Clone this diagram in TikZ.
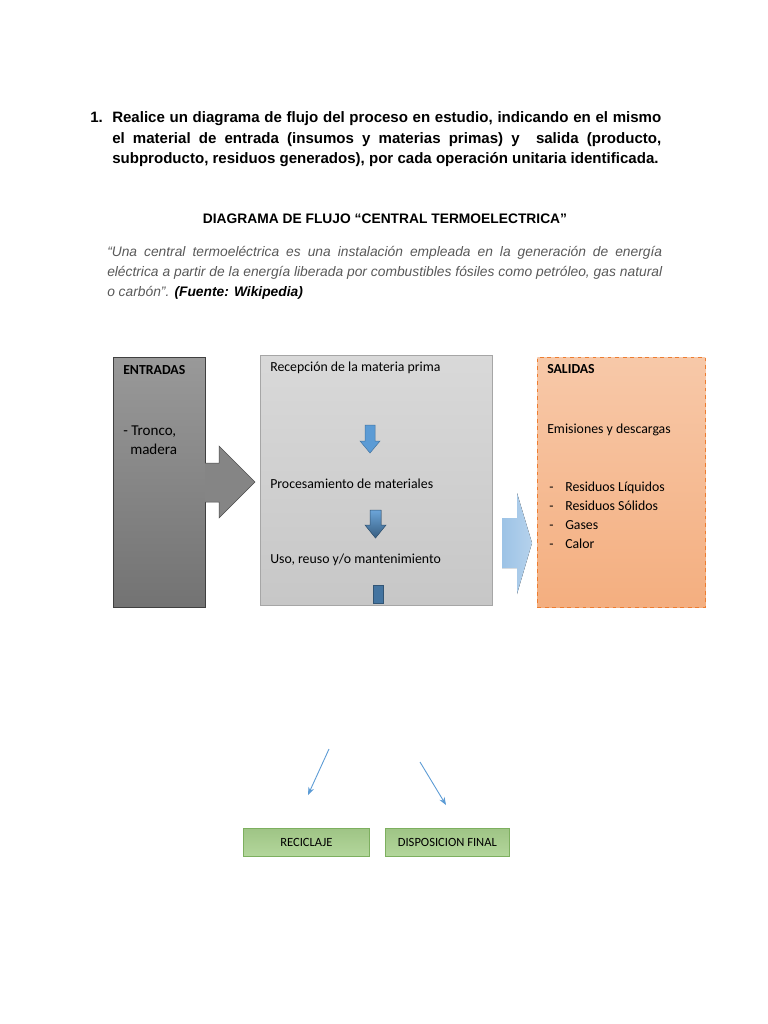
\documentclass[tikz,border=0pt]{standalone}
\usepackage{fontspec}
\setmainfont{Liberation Sans}
\newfontfamily\calibri{Carlito}
\usetikzlibrary{positioning,arrows.meta}

\newcommand\pxu{0.797pt}
\definecolor{quotegray}{HTML}{595959}
\definecolor{thinblue}{HTML}{5B9BD5}
\definecolor{salline}{HTML}{ED7D31}
\definecolor{tagfill}{HTML}{A9D18E}
\definecolor{tagline}{HTML}{7DAF5F}

\begin{document}
\begin{tikzpicture}[
  x=\pxu, y=-\pxu,
  >=Stealth,
  txt/.style={anchor=base west, inner sep=0, font=\calibri\fontsize{11}{13}\selectfont},
  head/.style={anchor=base west, inner sep=0, font=\fontsize{12}{14}\selectfont\bfseries},
  quote/.style={anchor=base west, inner sep=0, text=quotegray, font=\fontsize{11}{13}\selectfont\itshape},
  panel/.style={anchor=north west, inner sep=0, line width=0.6pt},
  tag/.style={panel, draw=tagline, top color=tagfill!94!black, bottom color=tagfill!88!white,
    minimum width=126*\pxu, minimum height=28*\pxu, font=\calibri\fontsize{10}{12}\selectfont},
  thinarr/.style={->, draw=thinblue, line width=0.7pt}
]
  \fill[white] (0,0) rectangle (768,1024);
  \useasboundingbox (0,0) rectangle (768,1024);

  % enunciado
  \node[head] (num) at (90,122) {1.};
  \node[head] (l1) at (112,122) {\makebox[437.6pt][s]{Realice un diagrama de flujo del proceso en estudio, indicando en el mismo}};
  \node[head] (l2) at (112,143) {\makebox[437.6pt][s]{el material de entrada (insumos y materias primas) y\ \ salida (producto,}};
  \node[head] (l3) at (112,163) {subproducto, residuos generados), por cada operación unitaria identificada.};

  \node[head, anchor=base, font=\fontsize{11}{13}\selectfont\bfseries] (titulo) at (385,223)
    {DIAGRAMA DE FLUJO “CENTRAL TERMOELECTRICA”};

  \node[quote] (q1) at (107,256) {\makebox[442.3pt][s]{“Una central termoeléctrica es una instalación empleada en la generación de energía}};
  \node[quote] (q2) at (107,276) {\makebox[442.3pt][s]{eléctrica a partir de la energía liberada por combustibles fósiles como petróleo, gas natural}};
  \node[quote] (q3) at (107,296) {o carbón”. {\color{black}\bfseries (Fuente: Wikipedia)}};

  % cajas
  \node[panel, draw=black!75, top color=black!40, bottom color=black!55,
    minimum width=92*\pxu, minimum height=250*\pxu] (ent) at (113,357) {};
  \node[panel, draw=black!35, top color=black!15, bottom color=black!22,
    minimum width=232*\pxu, minimum height=250*\pxu] (proc) at (260,355) {};
  \node[panel, draw=salline, dashed, top color=salline!42!white, bottom color=salline!62!white,
    minimum width=168*\pxu, minimum height=250*\pxu] (sal) at (537,357) {};

  % flechas de bloque
  \filldraw[fill=black!48, draw=black!70, line width=0.4pt]
    (205,463) -- (219,463) -- (219,446) -- (255,482) -- (219,518) -- (219,502) -- (205,502);
  \fill[left color=thinblue!60!white, right color=thinblue!45!white]
    (502,518) -- (517,518) -- (517,493) -- (532,543) -- (517,594) -- (517,568) -- (502,568) -- cycle;
  \filldraw[fill=thinblue, draw=thinblue!75!black, line width=0.4pt]
    (365,425) -- (375,425) -- (375,441) -- (380,441) -- (370,453) -- (360,441) -- (365,441) -- cycle;
  \filldraw[top color=thinblue!90!white, bottom color=thinblue!60!black, draw=thinblue!55!black, line width=0.4pt]
    (370,510) -- (381,510) -- (381,525) -- (386,525) -- (375.5,538) -- (365,525) -- (370,525) -- cycle;
  \filldraw[fill=thinblue!75!black, draw=thinblue!55!black, line width=0.4pt] (373,585) rectangle (383,603);

  % textos
  \node[txt, font=\calibri\fontsize{11}{13}\selectfont\bfseries] (enttit) at (123,374) {ENTRADAS};
  \node[txt, font=\calibri\fontsize{12}{14}\selectfont] (tronco) at (123,435) {- Tronco,};
  \node[txt, font=\calibri\fontsize{12}{14}\selectfont] (madera) at (130,454) {madera};

  \node[txt] (recep) at (270,371) {Recepción de la materia prima};
  \node[txt] (procm) at (270,488) {Procesamiento de materiales};
  \node[txt] (uso) at (270,563) {Uso, reuso y/o mantenimiento};

  \node[txt, font=\calibri\fontsize{11}{13}\selectfont\bfseries] (saltit) at (547,373) {SALIDAS};
  \node[txt] (emis) at (547,433) {Emisiones y descargas};
  \foreach \y/\t [count=\i] in {491/Residuos Líquidos, 510/Residuos Sólidos, 529/Gases, 548/Calor} {
    \node[txt] (g\i) at (549,\y) {-};
    \node[txt] (s\i) at (565,\y) {\t};
  }

  % destinos
  \node[tag] (recic) at (243,828) {RECICLAJE};
  \node[tag, minimum width=124*\pxu] (disp) at (385,828) {DISPOSICION FINAL};
  \coordinate (a1) at (329,749);
  \coordinate (b1) at (308,795);
  \coordinate (a2) at (420,762);
  \coordinate (b2) at (446,805);
  \draw[thinarr] (a1) -- (b1);
  \draw[thinarr] (a2) -- (b2);
\end{tikzpicture}
\end{document}
